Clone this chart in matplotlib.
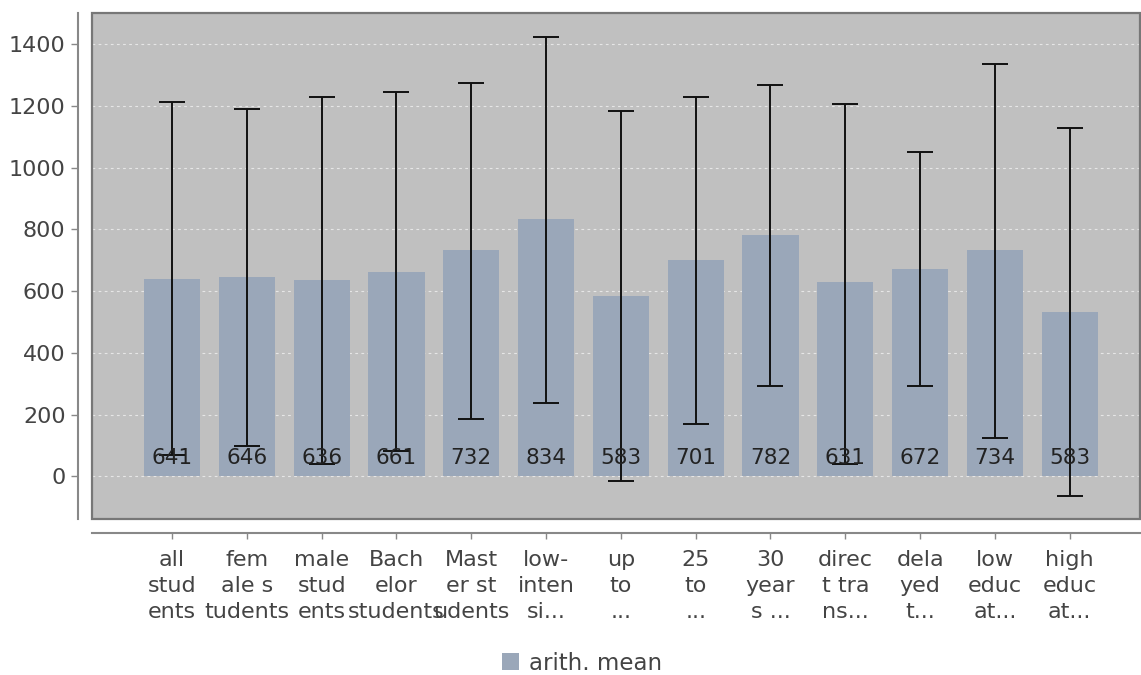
import matplotlib
matplotlib.use("Agg")
import matplotlib.pyplot as plt
import matplotlib.transforms as mtransforms
from matplotlib.patches import Patch, Rectangle
import numpy as np

categories = ["all\nstud\nents", "fem\nale s\ntudents", "male\nstud\nents",
              "Bach\nelor\nstudents", "Mast\ner st\nudents", "low-\ninten\nsi...",
              "up\nto\n...", "25\nto\n...", "30\nyear\ns ...", "direc\nt tra\nns...",
              "dela\nyed\nt...", "low\neduc\nat...", "high\neduc\nat..."]
means = [641, 646, 636, 661, 732, 834, 583, 701, 782, 631, 672, 734, 532]
value_labels = ["641", "646", "636", "661", "732", "834", "583", "701", "782", "631", "672", "734", "583"]
upper = [1214, 1191, 1230, 1245, 1275, 1423, 1184, 1230, 1268, 1205, 1050, 1337, 1129]
lower = [69, 100, 39, 82, 185, 238, -16, 170, 294, 39, 294, 123, -63]
yticks = [0, 200, 400, 600, 800, 1000, 1200, 1400]
series_name = "arith. mean"

bar_color = "#9aa7b9"
bg = "#c0c0c0"
txt = "#444444"
fs = 16

fig = plt.figure(figsize=(11.41, 6.75), dpi=100)
ax = fig.add_axes([92/1141, 1-519/675, (1140-92)/1141, (519-13)/675])
ax.set_facecolor(bg)

x = np.arange(len(means))
m = np.array(means)
ax.bar(x, m, width=0.75, color=bar_color, zorder=2)
ax.errorbar(x, m, yerr=[m - np.array(lower), np.array(upper) - m], fmt="none",
            ecolor="#111111", elinewidth=1.4, capsize=9.5, capthick=1.4, zorder=3)
for i, lab in enumerate(value_labels):
    ax.text(x[i], 58, lab, ha="center", va="center", fontsize=15.5, color="#222222", zorder=4)

ax.set_xlim(-1.07, 12.94)
ax.set_ylim(-138, 1501)
ax.set_yticks(yticks)
ax.set_xticks(x)
ax.set_xticklabels([""] * len(categories))
ax.tick_params(axis="y", labelsize=fs, labelcolor=txt, color="#888888", length=5, width=1, pad=4)
ax.tick_params(axis="x", color="#888888", length=4, width=1)

# multi-line category labels (drawn as text to control line spacing)
lab_trans = ax.get_xaxis_transform() + mtransforms.ScaledTranslation(0, -31/100, fig.dpi_scale_trans)
for i, cat in enumerate(categories):
    ax.text(x[i], 0, cat, transform=lab_trans, ha="center", va="top", fontsize=fs,
            color=txt, linespacing=1.38, clip_on=False)

ax.yaxis.grid(True, color="#e6e6e6", linestyle=(0, (2.5, 3)), linewidth=0.8, zorder=1)
ax.set_axisbelow(True)

for s in ["top", "right"]:
    ax.spines[s].set_visible(False)
ax.spines["left"].set_position(("outward", 10))
ax.spines["bottom"].set_position(("outward", 10))
for s in ["left", "bottom"]:
    ax.spines[s].set_color("#888888")
    ax.spines[s].set_linewidth(1.5)

ax.add_patch(Rectangle((0, 0), 1, 1, transform=ax.transAxes, fill=False,
                       edgecolor="#777777", linewidth=1.6, clip_on=False, zorder=5))

fig.legend(handles=[Patch(facecolor=bar_color)], labels=[series_name], loc="center",
           bbox_to_anchor=(582/1141, 1-663/675), frameon=False, fontsize=16.5,
           handlelength=0.75, handleheight=0.75, handletextpad=0.45, labelcolor=txt)

fig.savefig("out.png", dpi=100, facecolor="white")
